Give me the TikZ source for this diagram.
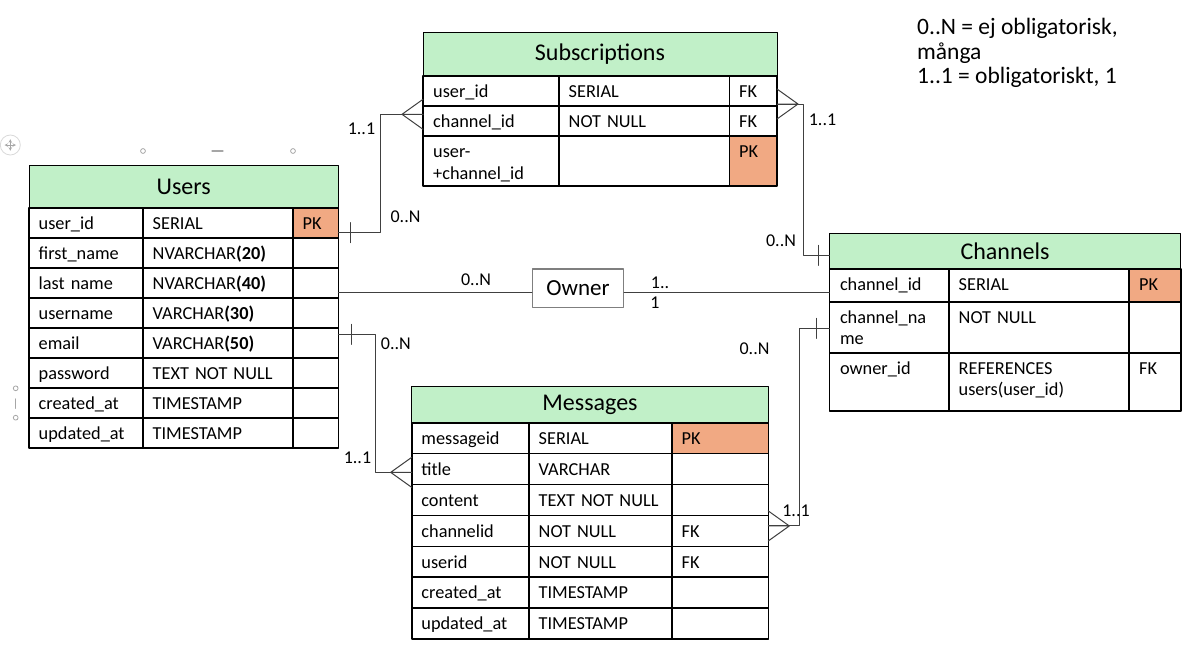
\documentclass[tikz,border=0pt]{standalone}
\usepackage{fontspec}
\setmainfont{Carlito}
\usetikzlibrary{calc}

\definecolor{headgreen}{HTML}{C1F0C8}
\definecolor{pkorange}{HTML}{F1A983}
\definecolor{linegray}{HTML}{404040}
\definecolor{boxgray}{HTML}{7F7F7F}
\definecolor{handlegray}{HTML}{A6A6A6}

\tikzset{
  head/.style={draw, line width=1pt, fill=headgreen, anchor=north west, inner sep=0pt, outer sep=0pt,
    font=\fontsize{24}{28}\selectfont},
  cell/.style={draw, line width=1.6pt, anchor=north west, inner sep=0pt, outer sep=0pt},
  txt/.style={anchor=north west, inner sep=0pt, text width=150pt, align=left,
    font=\fontsize{18.3}{21.5}\selectfont, execute at begin node=\strut},
  conn/.style={draw=linegray, line width=1pt},
  card/.style={inner sep=0pt, font=\fontsize{18}{21}\selectfont},
  crow/.pic={\draw[conn] (0,-15) -- (-21,0) -- (0,15) (-21,0) -- (0,0);},
  tick/.pic={\draw[conn] (0,-10) -- (0,10);},
  handle/.style={draw=handlegray, line width=0.8pt, fill=white}
}

\begin{document}
\begin{tikzpicture}[line cap=round,line join=round,x=1pt,y=-1pt]
\useasboundingbox[fill=white] (0,0) rectangle (1200,670);

% selection handles
\draw[draw=black!15, line width=0.8pt] (10.3,145) circle[radius=10pt];
\draw[handlegray, line width=0.6pt, <->, >=stealth] (4.5,145) -- (16,145);
\draw[handlegray, line width=0.6pt, <->, >=stealth] (10.3,139.2) -- (10.3,150.8);
\draw[handle] (143,151) circle[radius=2.4pt] (293,151) circle[radius=2.4pt];
\draw[handlegray, line width=1.2pt] (212,151) -- (223,151);
\draw[handle] (15.7,388.3) circle[radius=2.4pt] (15.7,417.7) circle[radius=2.4pt];
\draw[handlegray, line width=1.2pt] (15.7,399) -- (15.7,408.3);

% Users
\node[head, minimum width=309.3pt, minimum height=43pt] (users) at (29,165) {Users};
\foreach \nm/\ty/\ky/\kf [count=\i from 0] in {
  user\_id/SERIAL/PK/pkorange,
  first\_name/{NVARCHAR\textbf{(20)}}/{}/white,
  last name/{NVARCHAR\textbf{(40)}}/{}/white,
  username/{VARCHAR\textbf{(30)}}/{}/white,
  email/{VARCHAR\textbf{(50)}}/{}/white,
  password/TEXT NOT NULL/{}/white,
  created\_at/TIMESTAMP/{}/white,
  updated\_at/TIMESTAMP/{}/white}{
  \node[cell, minimum width=114pt, minimum height=30pt] (u-\i-a) at (29,{208+30*\i}) {};
  \node[cell, minimum width=150pt, minimum height=30pt] (u-\i-b) at (143,{208+30*\i}) {};
  \node[cell, minimum width=45.3pt, minimum height=30pt, fill=\kf] (u-\i-c) at (293,{208+30*\i}) {};
  \node[txt] (u-\i-at) at ($(u-\i-a.north west)+(9.5,6.3)$) {\nm};
  \node[txt] (u-\i-bt) at ($(u-\i-b.north west)+(9.5,6.3)$) {\ty};
  \node[txt] (u-\i-ct) at ($(u-\i-c.north west)+(9.5,6.3)$) {\ky};
}

% Subscriptions
\node[head, minimum width=354pt, minimum height=44pt] (subs) at (423,32) {Subscriptions};
\foreach \y/\h/\nm/\ty/\ky/\kf [count=\i from 0] in {
  76/30/user\_id/SERIAL/FK/white,
  106/30/channel\_id/NOT NULL/FK/white,
  136/50/{user-\\+channel\_id}/{}/PK/pkorange}{
  \node[cell, minimum width=136pt, minimum height=\h pt] (s-\i-a) at (423,\y) {};
  \node[cell, minimum width=170.5pt, minimum height=\h pt] (s-\i-b) at (559,\y) {};
  \node[cell, minimum width=47.5pt, minimum height=\h pt, fill=\kf] (s-\i-c) at (729.5,\y) {};
  \node[txt] (s-\i-at) at ($(s-\i-a.north west)+(10,6.3)$) {\nm};
  \node[txt] (s-\i-bt) at ($(s-\i-b.north west)+(9.5,6.3)$) {\ty};
  \node[txt] (s-\i-ct) at ($(s-\i-c.north west)+(9.5,6.3)$) {\ky};
}

% Channels
\node[head, minimum width=351.4pt, minimum height=35.7pt] (channels) at (829.3,233.3) {Channels};
\foreach \y/\h/\nm/\ty/\ky/\kf [count=\i from 0] in {
  269/32.7/channel\_id/SERIAL/PK/pkorange,
  301.7/51/{channel\_na\\me}/NOT NULL/{}/white,
  352.7/58.3/owner\_id/{REFERENCES\\users(user\_id)}/FK/white}{
  \node[cell, minimum width=119.7pt, minimum height=\h pt] (c-\i-a) at (829.3,\y) {};
  \node[cell, minimum width=180pt, minimum height=\h pt] (c-\i-b) at (949,\y) {};
  \node[cell, minimum width=51.7pt, minimum height=\h pt, fill=\kf] (c-\i-c) at (1129,\y) {};
  \node[txt] (c-\i-at) at ($(c-\i-a.north west)+(10.5,6.3)$) {\nm};
  \node[txt] (c-\i-bt) at ($(c-\i-b.north west)+(9.5,6.3)$) {\ty};
  \node[txt] (c-\i-ct) at ($(c-\i-c.north west)+(10,6.3)$) {\ky};
}

% Messages
\node[head, minimum width=356.6pt, minimum height=36pt] (messages) at (411.7,386.7) {Messages};
\foreach \nm/\ty/\ky/\kf [count=\i from 0] in {
  messageid/SERIAL/PK/pkorange,
  title/VARCHAR/{}/white,
  content/TEXT NOT NULL/{}/white,
  channelid/NOT NULL/FK/white,
  userid/NOT NULL/FK/white,
  created\_at/TIMESTAMP/{}/white,
  updated\_at/TIMESTAMP/{}/white}{
  \node[cell, minimum width=117.3pt, minimum height=30.9pt] (m-\i-a) at (411.7,{422.7+30.9*\i}) {};
  \node[cell, minimum width=143pt, minimum height=30.9pt] (m-\i-b) at (529,{422.7+30.9*\i}) {};
  \node[cell, minimum width=96.3pt, minimum height=30.9pt, fill=\kf] (m-\i-c) at (672,{422.7+30.9*\i}) {};
  \node[txt] (m-\i-at) at ($(m-\i-a.north west)+(9.5,6.5)$) {\nm};
  \node[txt] (m-\i-bt) at ($(m-\i-b.north west)+(9.5,6.5)$) {\ty};
  \node[txt] (m-\i-ct) at ($(m-\i-c.north west)+(9.5,6.5)$) {\ky};
}

% Owner
\node[draw=boxgray, line width=1.5pt, minimum width=90.6pt, minimum height=38.3pt,
  inner sep=0pt, font=\fontsize{23}{27}\selectfont] (owner) at (578,288.2) {Owner};

% Users -- Subscriptions
\coordinate (s-in) at ($(s-1-a.north west)+(0,8.3)$);
\draw[conn] ($(u-0-c.east)+(0,9.7)$) -| ($(s-in)+(-42.3,0)$) -- (s-in);
\path (s-in) pic {crow} ($(u-0-c.east)+(12,9.7)$) pic {tick};
\node[card] (l-us-1) at (361.5,128.3) {1..1};
\node[card] (l-us-2) at (405.5,217) {0..N};

% Subscriptions -- Channels
\coordinate (s-out) at ($(s-0-c.south east)+(0,-2)$);
\coordinate (c-in) at ($(channels.west)+(0,4.2)$);
\draw[conn] (s-out) -- ++(26.3,0) |- (c-in);
\path (s-out) pic[xscale=-1] {crow} ($(c-in)+(-11,0)$) pic {tick};
\node[card] (l-sc-1) at (822.5,119.3) {1..1};
\node[card] (l-sc-2) at (781,241) {0..N};

% Users -- Owner -- Channels
\coordinate (o-l) at ($(u-2-c.east)+(0,9)$);
\draw[conn] (o-l) -- (owner.west |- o-l);
\draw[conn] (owner.east |- o-l) -- (c-0-a.west |- o-l);
\node[card] (l-uo) at (476,280) {0..N};
\node[card] (l-oc-1) at (660,283) {1..};
\node[card] (l-oc-2) at (655,303) {1};

% Users -- Messages
\coordinate (m-in) at ($(m-1-a.west)+(0,3.3)$);
\draw[conn] ($(u-4-c.east)+(0,-8.7)$) -| ($(m-in)+(-36,0)$) -- (m-in);
\path (m-in) pic {crow} ($(u-4-c.east)+(13.4,-8.7)$) pic {tick};
\node[card] (l-um-1) at (395.8,344) {0..N};
\node[card] (l-um-2) at (357.5,457.7) {1..1};

% Messages -- Channels
\coordinate (m-out) at ($(m-3-c.east)+(0,-4.9)$);
\coordinate (c-in2) at ($(c-1-a.west)+(0,1.1)$);
\draw[conn] (m-out) -- ++(31,0) |- (c-in2);
\path (m-out) pic[xscale=-1] {crow} ($(c-in2)+(-12.6,0)$) pic {tick};
\node[card] (l-mc-1) at (796,510.7) {1..1};
\node[card] (l-mc-2) at (754.5,349) {0..N};

% legend
\node[anchor=base west, inner sep=0pt, align=left, font=\fontsize{23.5}{24.5}\selectfont] (legend)
  at (917,83.5) {0..N = ej obligatorisk,\\många\\1..1 = obligatoriskt, 1};
\end{tikzpicture}
\end{document}
